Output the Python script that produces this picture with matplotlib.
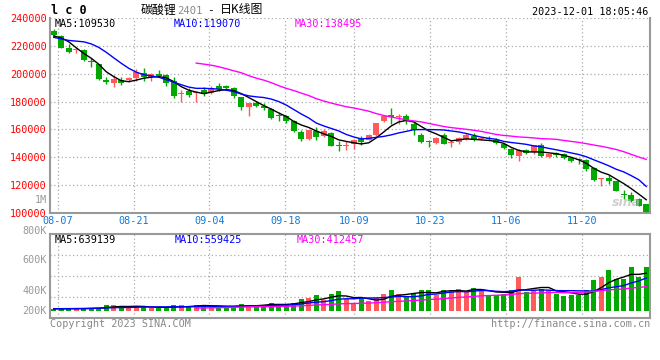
import matplotlib
matplotlib.use("Agg")
import matplotlib.pyplot as plt
import numpy as np
import pandas as pd

# trading days 2023-08-04 .. 2023-12-01 (holidays removed)
holidays = pd.to_datetime(["2023-09-29", "2023-10-02", "2023-10-03",
                           "2023-10-04", "2023-10-05", "2023-10-06"])
days = pd.bdate_range("2023-08-04", "2023-12-01")
days = days[~days.isin(holidays)]

tick_dates = ["08-07", "08-21", "09-04", "09-18", "10-09", "10-23", "11-06", "11-20"]

opens = [230700, 227100, 218800, 216900, 217100, 208800, 207100, 195700, 193100, 195700,
         195200, 197100, 200500, 197900, 199800, 199100, 194500, 185300, 187900, 186000,
         188200, 186200, 191000, 191400, 189800, 183100, 175900, 179100, 177100, 174800,
         170100, 169300, 166000, 158100, 152900, 158800, 155200, 157600, 148300, 148400,
         149300, 153400, 152600, 155700, 166400, 170700, 168600, 170000, 164100, 156200,
         151100, 150200, 156200, 150000, 150900, 153400, 155500, 153200, 153600, 152600,
         149400, 145700, 140900, 145500, 143800, 148600, 139900, 143400, 142100, 139500,
         138600, 137900, 132600, 124700, 125200, 122900, 113600, 112900, 110000, 106400]
highs = [232400, 228000, 221200, 218600, 218100, 211600, 207300, 197900, 199100, 197400,
         197400, 203400, 204300, 200200, 202900, 199800, 197400, 188400, 189500, 187400,
         190200, 191400, 193400, 192100, 190200, 183600, 179300, 180700, 178800, 175700,
         172400, 170700, 166700, 159300, 159800, 161600, 160300, 158100, 151400, 151400,
         153400, 155000, 156400, 164800, 170700, 175200, 171200, 171200, 165200, 157100,
         152100, 154500, 157400, 152100, 154500, 157100, 157100, 154500, 155000, 153800,
         149800, 146600, 146200, 146200, 149100, 150500, 142400, 144000, 142800, 140200,
         139800, 139100, 133100, 125000, 127100, 123100, 116400, 115000, 110500, 106800]
lows = [227000, 218700, 214800, 214800, 209300, 204500, 195700, 192400, 190700, 191900,
        194300, 195000, 195000, 195000, 197400, 191400, 182400, 179500, 183400, 180000,
        184300, 185500, 187900, 188400, 182400, 174300, 170000, 175900, 173600, 167600,
        165900, 164500, 157900, 151600, 152100, 152100, 154500, 147800, 144500, 145000,
        146200, 148600, 152100, 155400, 165200, 163600, 164100, 164100, 156200, 150500,
        147400, 149500, 149300, 147400, 149300, 152600, 151700, 152400, 152100, 149800,
        145900, 139800, 137100, 142200, 142200, 140200, 139500, 140200, 138800, 136400,
        135500, 130000, 123300, 119300, 121000, 115700, 110000, 108100, 105000, 100600]
closes = [227600, 218800, 215900, 217100, 209500, 208100, 195900, 193800, 196200, 193100,
          196600, 200900, 197400, 199500, 198600, 193400, 184300, 185500, 184800, 186200,
          185600, 189500, 189300, 189800, 183800, 175900, 178800, 176600, 175200, 168100,
          169800, 166400, 158600, 152900, 159300, 154500, 158600, 148100, 148000, 148600,
          152100, 150900, 155700, 164500, 170000, 168800, 168900, 165700, 159300, 150900,
          150700, 154100, 149800, 150300, 153800, 156200, 152600, 153500, 153300, 150200,
          146600, 141400, 145000, 143400, 148600, 140900, 142100, 141400, 139500, 137400,
          138200, 131400, 123600, 124900, 122900, 116000, 113200, 108600, 105200, 100900]

ma5 = [227.1, 225.7, 222.9, 218.6, 214.6, 211.1, 206.8, 201.4, 197.9, 195.0,
       194.3, 195.4, 196.8, 197.5, 197.9, 197.1, 194.3, 190.7, 188.2, 186.8,
       185.7, 186.8, 187.9, 188.6, 187.9, 185.7, 182.9, 180.0, 177.1, 174.6,
       171.8, 169.3, 165.7, 163.2, 161.4, 158.9, 156.8, 155.0, 152.5, 151.4,
       150.4, 149.6, 150.4, 153.9, 158.2, 162.5, 165.4, 166.4, 165.4, 162.1,
       158.9, 156.8, 154.3, 151.8, 152.5, 153.2, 152.9, 152.5, 152.1, 151.4,
       150.0, 147.1, 145.0, 143.9, 143.8, 143.8, 143.2, 142.6, 141.4, 140.0,
       138.2, 135.7, 132.1, 129.3, 127.5, 124.3, 121.1, 117.5, 113.6, 109.53]
ma10 = [226.1, 225.0, 223.9, 223.4, 222.9, 221.4, 218.9, 215.4, 211.4, 207.5,
        203.9, 201.1, 199.3, 198.4, 197.5, 195.7, 193.9, 192.1, 190.4, 189.5,
        189.5, 189.3, 188.9, 188.2, 187.1, 185.4, 184.1, 183.4, 182.9, 181.8,
        180.0, 177.5, 174.3, 171.1, 168.2, 164.6, 162.5, 160.7, 158.9, 156.4,
        154.6, 153.2, 153.6, 154.3, 155.0, 156.1, 157.5, 158.6, 159.8, 159.9,
        159.9, 159.8, 159.6, 158.9, 158.2, 157.1, 155.7, 154.5, 153.6, 152.9,
        151.4, 150.6, 150.0, 149.3, 148.2, 147.5, 146.4, 145.4, 144.3, 143.1,
        142.0, 140.4, 138.2, 136.1, 133.9, 131.4, 129.5, 126.8, 123.9, 119.07]
ma30 = [np.nan] * 19 + [
    207.6, 206.9, 206.1, 205.0, 203.6, 202.1, 200.7, 198.6, 196.8, 195.4, 193.6,
    191.4, 189.5, 187.9, 186.1, 184.3, 182.1, 180.4, 178.9, 177.6, 176.3,
    175.4, 174.3, 173.1, 171.4, 170.0, 168.9, 167.9, 166.9, 166.1, 165.4,
    164.3, 163.2, 162.1, 161.3, 160.7, 160.1, 159.4, 158.6, 157.5, 156.4,
    155.7, 155.2, 154.6, 154.3, 153.9, 153.4, 153.2, 152.9, 152.1, 151.4,
    150.7, 149.8, 148.8, 147.9, 146.8, 145.6, 144.0, 142.1, 140.2, 138.495]

# volume in thousands of lots
volume = [40, 40, 40, 40, 40, 57, 57, 96, 96, 79,
          51, 79, 79, 51, 51, 51, 96, 96, 79, 96,
          96, 79, 79, 51, 79, 124, 96, 96, 96, 141,
          124, 96, 141, 209, 226, 266, 181, 283, 333, 209,
          124, 198, 170, 226, 283, 362, 294, 237, 311, 362,
          362, 266, 362, 362, 379, 322, 396, 362, 266, 266,
          294, 350, 576, 322, 362, 379, 350, 294, 249, 266,
          266, 350, 520, 576, 689, 548, 548, 746, 576, 746]
vma5 = [36, 37, 38, 39, 40, 43, 47, 58, 69, 77,
        76, 80, 77, 68, 62, 62, 66, 69, 75, 84,
        93, 89, 86, 80, 77, 82, 86, 89, 98, 111,
        111, 111, 120, 142, 159, 188, 205, 233, 258, 254,
        226, 229, 207, 185, 200, 248, 267, 280, 297, 313,
        313, 308, 333, 343, 346, 338, 364, 364, 345, 322,
        317, 308, 350, 362, 381, 398, 398, 341, 327, 308,
        285, 285, 330, 396, 480, 537, 576, 621, 621, 639.139]
vma10 = [38, 39, 40, 41, 42, 45, 48, 52, 56, 58.5,
         59.6, 63.5, 67.4, 68.5, 69.6, 69.0, 72.9, 72.9, 71.2, 72.9,
         77.4, 77.4, 77.4, 77.4, 80.2, 87.5, 87.5, 87.5, 89.2, 93.7,
         96.5, 98.2, 104.4, 120.2, 134.9, 149.1, 157.6, 176.3, 200.0, 206.8,
         206.8, 217.0, 219.9, 221.6, 227.3, 236.9, 248.2, 243.6, 241.4, 256.7,
         280.5, 287.3, 306.5, 320.1, 329.7, 325.7, 335.9, 348.4, 343.9, 334.3,
         327.5, 335.9, 357.3, 353.3, 351.6, 357.3, 352.7, 345.9, 344.2, 344.2,
         341.4, 341.4, 335.8, 361.2, 393.9, 410.8, 430.6, 475.8, 508.5, 559.425]
vma30 = [np.nan] * 19 + [
    48, 51, 54, 57, 59, 62, 66, 69, 72, 74, 75.0,
    77.8, 79.7, 83.1, 88.7, 94.9, 101.9, 106.0, 112.2, 120.1, 124.5,
    126.9, 130.9, 133.9, 139.7, 147.5, 157.8, 164.4, 169.1, 176.9, 185.7,
    194.6, 200.8, 210.3, 220.6, 230.6, 237.2, 247.2, 256.1, 261.8, 265.9,
    271.6, 280.1, 294.6, 298.3, 302.9, 306.6, 312.3, 312.6, 309.8, 311.7,
    316.5, 321.5, 333.2, 344.9, 358.4, 364.6, 373.1, 390.0, 398.9, 412.457]

W, H = 660, 360
RED = "#ff5b5b"
GREEN = "#00a800"
GRID = "#aaaaaa"
FRAME = "#999999"
MONO = "DejaVu Sans Mono"
plt.rcParams["font.family"] = [MONO]


def rect(x0, y0, x1, y1):
    return [x0 / W, 1 - y1 / H, (x1 - x0) / W, (y1 - y0) / H]


def ftext(x, y, s, **kw):
    fig.text(x / W, 1 - y / H, s, **kw)


n = len(closes)
x = np.arange(n)
o = np.array(opens)
c = np.array(closes)
up = c >= o
colors = np.where(up, RED, GREEN)
tick_idx = [list(days.strftime("%m-%d")).index(d) for d in tick_dates]
# sina spreads the date grid over n-1 steps while candles use n slots
tick_pos = [i * n / (n - 1) - 0.5 for i in tick_idx]

fig = plt.figure(figsize=(W / 100, H / 100), dpi=100)
fig.patch.set_facecolor("white")

# ---- price panel ----
ax = fig.add_axes(rect(50, 18, 650, 213))
ax.set_xlim(-0.5, n - 0.5)
ax.set_ylim(100000, 240000)
body_low = np.minimum(o, c)
body_h = np.maximum(np.abs(c - o), 700)
ax.vlines(x, lows, highs, colors=colors, linewidth=1, zorder=3)
ax.bar(x, body_h, bottom=body_low, width=0.8, color=colors, linewidth=0, zorder=4)
ax.plot(x, np.array(ma5) * 1000, color="black", lw=1, zorder=5)
ax.plot(x, np.array(ma10) * 1000, color="#0000ff", lw=1, zorder=5)
ax.plot(x, np.array(ma30) * 1000, color="#ff00ff", lw=1, zorder=5)

yt = list(range(100000, 240001, 20000))
ax.set_yticks(yt)
ax.set_yticklabels([str(v) for v in yt], color="#ff0000", fontsize=7.3)
ax.set_xticks(tick_pos)
ax.set_xticklabels(tick_dates, color="#1279d6", fontsize=7.3)
ax.tick_params(length=0, pad=2.5)
ax.grid(True, color=GRID, linestyle=(0, (1, 2)), linewidth=0.9)
ax.set_axisbelow(True)
for side in ["left", "bottom", "right"]:
    ax.spines[side].set_color(FRAME)
    ax.spines[side].set_linewidth(1.5)
ax.spines["top"].set_visible(False)
ftext(47, 200, "1M", color="#999999", fontsize=7.3, ha="right", va="center")

# ---- volume panel ----
av = fig.add_axes(rect(50, 234, 650, 318))
av.set_xlim(-0.5, n - 0.5)
av.set_ylim(-119, 1305)
av.bar(x, volume, width=0.7, color=colors, linewidth=0, zorder=3)
av.plot(x, vma5, color="black", lw=1, zorder=4)
av.plot(x, vma10, color="#0000ff", lw=1, zorder=4)
av.plot(x, vma30, color="#ff00ff", lw=1, zorder=4)
av.set_xticks(tick_pos)
av.set_xticklabels([])
av.set_yticks([])
av.tick_params(length=0)
av.grid(True, axis="x", color=GRID, linestyle=(0, (1, 2)), linewidth=0.9)
for f in [0.25, 0.5, 0.75]:
    av.plot([0, 1], [f, f], transform=av.transAxes, color=GRID,
            linestyle=(0, (1, 2)), linewidth=0.9, zorder=1)
av.set_axisbelow(True)
for side in av.spines:
    av.spines[side].set_color(FRAME)
    av.spines[side].set_linewidth(1.5)
for lab, yy in [("800K", 231), ("600K", 260), ("400K", 291), ("200K", 311)]:
    ftext(47, yy, lab, color="#999999", fontsize=7.3, ha="right", va="center")

# ---- texts ----
ftext(51, 10, "l c 0", fontsize=8.5, fontweight="bold", va="center")
cjk = ["Noto Sans CJK SC", "DejaVu Sans"]
ftext(141, 10, "碳酸锂", family=cjk, fontsize=8.6, va="center")
ftext(177, 10.5, "2401", color="#888888", fontsize=7.6, va="center")
ftext(207, 10, "-", fontsize=8, va="center")
ftext(220, 10, "日K线图", family=cjk, fontsize=8.6, va="center")
ftext(648, 12, "2023-12-01 18:05:46", fontsize=7.3, ha="right", va="center")

ftext(55, 24, "MA5:109530", color="black", fontsize=7.3, va="center")
ftext(174, 24, "MA10:119070", color="#0000ff", fontsize=7.3, va="center")
ftext(295, 24, "MA30:138495", color="#ff00ff", fontsize=7.3, va="center")

ftext(55, 240, "MA5:639139", color="black", fontsize=7.3, va="center")
ftext(175, 240, "MA10:559425", color="#0000ff", fontsize=7.3, va="center")
ftext(297, 240, "MA30:412457", color="#ff00ff", fontsize=7.3, va="center")

ftext(50, 324, "Copyright 2023 SINA.COM", color="#888888", fontsize=7.3, va="center")
ftext(650, 324, "http://finance.sina.com.cn", color="#888888", fontsize=7.3,
      ha="right", va="center")
ftext(612, 203, "sina", color="#bbbbbb", fontsize=9, fontweight="bold",
      style="italic", va="center", alpha=0.7, family="DejaVu Sans")

fig.savefig("out.png", dpi=100)
